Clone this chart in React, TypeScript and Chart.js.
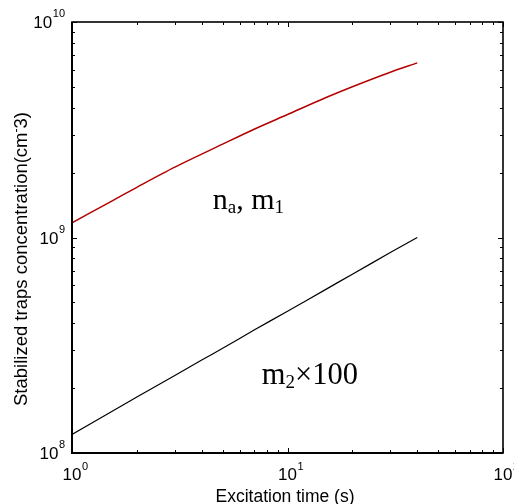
import React, { useEffect, useRef } from "react";
import { Chart, registerables } from "chart.js";
Chart.register(...registerables);

// Excitation time (s) and stabilized traps concentration (cm^-3)
const timeNaM1 = [1, 1.5, 2, 3, 5, 7, 10, 15, 20, 30, 40];
const concNaM1 = [1.17e9, 1.46e9, 1.71e9, 2.12e9, 2.71e9, 3.18e9, 3.72e9, 4.45e9, 5.01e9, 5.85e9, 6.46e9];
const timeM2 = [1, 2, 3, 4, 5, 7, 10, 15, 20, 30, 40];
const concM2x100 = [1.22e8, 1.82e8, 2.29e8, 2.7e8, 3.06e8, 3.72e8, 4.55e8, 5.73e8, 6.76e8, 8.51e8, 1.0e9];

// tick decades (exponents of ten)
const xDecades = [0, 1, 2];
const yDecades = [8, 9, 10];

const xTitle = "Excitation time (s)";
const yTitleMain = "Stabilized traps concentration(cm";
const yTitleSup = "-";
const yTitleEnd = "3)";

// annotation anchors in data coordinates
const noteNaM1 = { x: 4.5, y: 1.36e9 };
const noteM2 = { x: 7.6, y: 2.1e8 };

const SANS = '"Liberation Sans", Arial, sans-serif';
const SERIF = '"Liberation Serif", "Times New Roman", serif';

function drawSubText(ctx: CanvasRenderingContext2D, parts: [string, boolean][], x: number, y: number, size: number, subSize: number) {
  let cx = x;
  for (const [t, sub] of parts) {
    ctx.font = `${sub ? subSize : size}px ${SERIF}`;
    ctx.fillText(t, cx, sub ? y + size * 0.15 : y);
    cx += ctx.measureText(t).width;
  }
}

const framePlugin = {
  id: "frame",
  afterDatasetsDraw(chart: any) {
    const { ctx, chartArea: a, scales } = chart;
    const xs = scales.x;
    const ys = scales.y;
    ctx.save();
    ctx.strokeStyle = "#000";
    ctx.fillStyle = "#000";
    ctx.lineWidth = 1;
    // ticks
    ctx.beginPath();
    for (let i = 0; i < xDecades.length; i++) {
      const d = xDecades[i];
      for (let k = 1; k <= 9; k++) {
        if (i === xDecades.length - 1 && k > 1) break;
        const px = Math.round(xs.getPixelForValue(k * Math.pow(10, d))) + 0.5;
        const len = k === 1 ? 5 : 3;
        ctx.moveTo(px, a.bottom);
        ctx.lineTo(px, a.bottom - len);
        ctx.moveTo(px, a.top);
        ctx.lineTo(px, a.top + len);
      }
    }
    for (let i = 0; i < yDecades.length; i++) {
      const d = yDecades[i];
      for (let k = 1; k <= 9; k++) {
        if (i === yDecades.length - 1 && k > 1) break;
        const py = Math.round(ys.getPixelForValue(k * Math.pow(10, d))) + 0.5;
        const len = k === 1 ? 5 : 3;
        ctx.moveTo(a.left, py);
        ctx.lineTo(a.left + len, py);
        ctx.moveTo(a.right, py);
        ctx.lineTo(a.right - len, py);
      }
    }
    ctx.stroke();
    // frame
    ctx.lineWidth = 1.6;
    ctx.strokeRect(a.left, a.top, a.right - a.left, a.bottom - a.top);
    ctx.lineWidth = 2;
    ctx.beginPath();
    ctx.moveTo(a.left, a.top);
    ctx.lineTo(a.left, a.bottom);
    ctx.lineTo(a.right, a.bottom);
    ctx.stroke();

    // tick labels
    const mainSize = 17;
    const supSize = 11;
    ctx.textAlign = "left";
    ctx.textBaseline = "alphabetic";
    for (const d of xDecades) {
      const px = xs.getPixelForValue(Math.pow(10, d));
      ctx.font = `${mainSize}px ${SANS}`;
      const wM = ctx.measureText("10").width;
      ctx.fillText("10", px - wM / 2, a.bottom + 27);
      ctx.font = `${supSize}px ${SANS}`;
      ctx.fillText(String(d), px + wM / 2 + 0.5, a.bottom + 17);
    }
    for (const d of yDecades) {
      const py = ys.getPixelForValue(Math.pow(10, d));
      ctx.font = `${mainSize}px ${SANS}`;
      const wM = ctx.measureText("10").width;
      ctx.font = `${supSize}px ${SANS}`;
      const wS = ctx.measureText(String(d)).width;
      const right = a.left - 7;
      const left = right - wM - wS - 0.5;
      ctx.font = `${mainSize}px ${SANS}`;
      ctx.fillText("10", left, py + 6);
      ctx.font = `${supSize}px ${SANS}`;
      ctx.fillText(String(d), left + wM + 0.5, py - 5);
    }

    // axis titles
    ctx.font = `17.5px ${SANS}`;
    ctx.textAlign = "center";
    ctx.fillText(xTitle, 285, a.bottom + 49);

    ctx.save();
    ctx.translate(27, 259);
    ctx.rotate(-Math.PI / 2);
    ctx.textAlign = "left";
    const ts = 18.5;
    const ss = 12;
    ctx.font = `${ts}px ${SANS}`;
    const w1 = ctx.measureText(yTitleMain).width;
    const w3 = ctx.measureText(yTitleEnd).width;
    ctx.font = `${ss}px ${SANS}`;
    const w2 = ctx.measureText(yTitleSup).width;
    const total = w1 + w2 + w3;
    let cx = -total / 2;
    ctx.font = `${ts}px ${SANS}`;
    ctx.fillText(yTitleMain, cx, 0);
    cx += w1;
    ctx.font = `${ss}px ${SANS}`;
    ctx.fillText(yTitleSup, cx, -7);
    cx += w2;
    ctx.font = `${ts}px ${SANS}`;
    ctx.fillText(yTitleEnd, cx, 0);
    ctx.restore();

    // annotations
    ctx.textAlign = "left";
    drawSubText(ctx, [["n", false], ["a", true], [", m", false], ["1", true]],
      xs.getPixelForValue(noteNaM1.x), ys.getPixelForValue(noteNaM1.y), 30, 19);
    drawSubText(ctx, [["m", false], ["2", true], ["×100", false]],
      xs.getPixelForValue(noteM2.x), ys.getPixelForValue(noteM2.y), 30.5, 19);
    ctx.restore();
  },
};

export default function App() {
  const ref = useRef<HTMLCanvasElement | null>(null);
  useEffect(() => {
    document.body.style.margin = "0";
    if (!ref.current) return;
    const chart = new Chart(ref.current, {
      type: "scatter",
      data: {
        datasets: [
          {
            label: "n_a, m_1",
            data: timeNaM1.map((t, i) => ({ x: t, y: concNaM1[i] })),
            showLine: true,
            borderColor: "#b40000",
            borderWidth: 1.5,
            pointRadius: 0,
            tension: 0.3,
          },
          {
            label: "m_2 x 100",
            data: timeM2.map((t, i) => ({ x: t, y: concM2x100[i] })),
            showLine: true,
            borderColor: "#000000",
            borderWidth: 1.2,
            pointRadius: 0,
            tension: 0.2,
          },
        ],
      },
      options: {
        animation: false,
        responsive: false,
        devicePixelRatio: 1,
        layout: { padding: { left: 72, right: 11, top: 22, bottom: 51 } },
        plugins: { legend: { display: false }, tooltip: { enabled: false } },
        scales: {
          x: { type: "logarithmic", min: 1, max: 100, display: false },
          y: { type: "logarithmic", min: 1e8, max: 1e10, display: false },
        },
      },
      plugins: [framePlugin],
    });
    return () => chart.destroy();
  }, []);
  return (
    <div style={{ position: "fixed", left: 0, top: 0, width: 514, height: 504, background: "#fff" }}>
      <canvas ref={ref} width={514} height={504} />
    </div>
  );
}
